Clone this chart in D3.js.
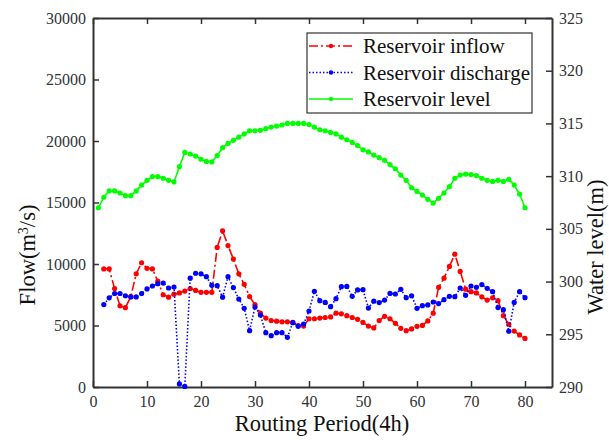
<!DOCTYPE html>
<html>
<head>
<meta charset="utf-8">
<script src="https://cdn.jsdelivr.net/npm/d3@7"></script>
<style>
  body { margin: 0; background: #fff; }
  svg text { font-family: "Liberation Serif", "Times New Roman", serif; }
</style>
</head>
<body>
<div id="chart"></div>
<script>
// periods: level is given for 1..80, inflow/discharge for 2..80
var levelPeriods = d3.range(1, 81);
var flowPeriods = d3.range(2, 81);

var level = [307.0, 308.0, 308.6, 308.6, 308.4, 308.15, 308.15, 308.6, 309.15, 309.6,
  309.95, 309.95, 309.8, 309.6, 309.45, 310.9, 312.25, 312.1, 311.9, 311.6,
  311.4, 311.35, 311.95, 312.7, 313.1, 313.4, 313.7, 314.0, 314.3, 314.3,
  314.35, 314.5, 314.65, 314.75, 314.85, 315.0, 315.0, 315.0, 315.0, 314.9,
  314.65, 314.4, 314.3, 314.15, 314.0, 313.7, 313.45, 313.2, 312.9, 312.5,
  312.3, 312.0, 311.75, 311.5, 311.1, 310.7, 310.1, 309.6, 308.9, 308.55,
  308.2, 307.8, 307.45, 307.9, 308.4, 309.0, 309.8, 310.1, 310.2, 310.15,
  310.05, 309.8, 309.6, 309.5, 309.6, 309.5, 309.7, 309.15, 308.3, 307.0];

var inflow = [9600, 9600, 8000, 6600, 6450, 7350, 9200, 10100, 9650,
  9600, 8600, 7500, 7300, 7550, 7650, 7800, 8000, 7850, 7700,
  7700, 7700, 11350, 12700, 11500, 10400, 9200, 8350, 7350, 6700,
  6000, 5600, 5400, 5350, 5300, 5300, 5250, 5000, 4950, 5550,
  5550, 5600, 5650, 5700, 6000, 5950, 5800, 5650, 5500, 5250,
  4950, 4800, 5400, 5750, 5550, 5180, 4770, 4580, 4720, 4930,
  5010, 5370, 6000, 8100, 8850, 9800, 10800, 9400, 7950, 7750,
  7650, 7330, 7070, 7250, 7020, 5800, 5100, 4550, 4230, 3950];

var discharge = [6700, 7250, 7600, 7600, 7420, 7320, 7320, 7600, 7970,
  8210, 8400, 8450, 8050, 8130, 250, 50, 8850, 9250, 9200,
  8970, 8270, 8240, 7300, 8970, 8080, 7150, 6400, 4580, 6500,
  5850, 4420, 4170, 4420, 4420, 4040, 5230, 4930, 5120, 6180,
  7780, 7020, 6880, 6530, 7180, 8160, 8180, 7370, 7890, 7910,
  6420, 6980, 6860, 7070, 7610, 7560, 7940, 7260, 7420, 6400,
  6610, 6670, 6910, 6780, 7100, 7370, 7340, 8050, 7450, 8210,
  8100, 8330, 8020, 7750, 6460, 6290, 4540, 6880, 7750, 7260];

var xTicks = [0, 10, 20, 30, 40, 50, 60, 70, 80];
var flowTicks = [0, 5000, 10000, 15000, 20000, 25000, 30000];
var levelTicks = [290, 295, 300, 305, 310, 315, 320, 325];
var seriesNames = ["Reservoir inflow", "Reservoir discharge", "Reservoir level"];

var svgWidth = 609;
var svgHeight = 440;
var margin = { top: 18, right: 57, bottom: 53, left: 93 };
var width = svgWidth - margin.left - margin.right;
var height = svgHeight - margin.top - margin.bottom;

var svg = d3.select("#chart").append("svg")
  .attr("width", svgWidth)
  .attr("height", svgHeight);

var chartGroup = svg.append("g")
  .attr("transform", `translate(${margin.left}, ${margin.top})`);

var xScale = d3.scaleLinear().domain([0, 85]).range([0, width]);
var yFlow = d3.scaleLinear().domain([0, 30000]).range([height, 0]);
var yLevel = d3.scaleLinear().domain([290, 325]).range([height, 0]);

var plain = d3.format("d");

// axes, ticks pointing inward
function styleAxis(g) {
  g.attr("font-family", "Liberation Serif, Times New Roman, serif");
  g.select(".domain").attr("stroke", "#333").attr("stroke-width", 2);
  g.selectAll(".tick line").attr("stroke", "#333").attr("stroke-width", 1.5);
  g.selectAll(".tick text").attr("fill", "#333").style("font-size", "16px");
}

chartGroup.append("g")
  .attr("transform", `translate(0, ${height})`)
  .call(d3.axisBottom(xScale).tickValues(xTicks).tickFormat(plain).tickSize(-6).tickPadding(9).tickSizeOuter(0))
  .call(styleAxis);

chartGroup.append("g")
  .call(d3.axisTop(xScale).tickValues(xTicks).tickSize(-6).tickSizeOuter(0).tickFormat(""))
  .call(styleAxis);

chartGroup.append("g")
  .call(d3.axisLeft(yFlow).tickValues(flowTicks).tickFormat(plain).tickSize(-6).tickPadding(7).tickSizeOuter(0))
  .call(styleAxis);

chartGroup.append("g")
  .attr("transform", `translate(${width}, 0)`)
  .call(d3.axisRight(yLevel).tickValues(levelTicks).tickFormat(plain).tickSize(-6).tickPadding(7).tickSizeOuter(0))
  .call(styleAxis);

// series
var series = [
  { name: seriesNames[0], xs: flowPeriods, ys: inflow, scale: yFlow, color: "#ff0000", dash: "9,3,2,3" },
  { name: seriesNames[1], xs: flowPeriods, ys: discharge, scale: yFlow, color: "#0000ff", dash: "1.5,2" },
  { name: seriesNames[2], xs: levelPeriods, ys: level, scale: yLevel, color: "#00ff00", dash: null }
];

series.forEach(function(s) {
  var pts = s.xs.map(function(x, i) { return [x, s.ys[i]]; });
  var line = d3.line()
    .x(d => xScale(d[0]))
    .y(d => s.scale(d[1]));

  chartGroup.append("path")
    .datum(pts)
    .attr("fill", "none")
    .attr("stroke", s.color)
    .attr("stroke-width", 1.6)
    .attr("stroke-dasharray", s.dash)
    .attr("d", line);

  chartGroup.append("g")
    .selectAll("circle")
    .data(pts)
    .enter()
    .append("circle")
    .attr("cx", d => xScale(d[0]))
    .attr("cy", d => s.scale(d[1]))
    .attr("r", 2.6)
    .attr("fill", s.color);
});

// legend
var legend = svg.append("g").attr("transform", "translate(307, 33)");
legend.append("rect")
  .attr("width", 225)
  .attr("height", 80)
  .attr("fill", "#fff")
  .attr("stroke", "#333")
  .attr("stroke-width", 1.2);

series.forEach(function(s, i) {
  var yy = 13 + i * 26.5;
  legend.append("line")
    .attr("x1", 2).attr("x2", 46)
    .attr("y1", yy).attr("y2", yy)
    .attr("stroke", s.color)
    .attr("stroke-width", 1.6)
    .attr("stroke-dasharray", s.dash);
  legend.append("circle")
    .attr("cx", 24).attr("cy", yy).attr("r", 2.2)
    .attr("fill", s.color);
  legend.append("text")
    .attr("x", 56)
    .attr("y", yy)
    .attr("dy", "0.35em")
    .style("font-size", "21px")
    .attr("fill", "#111")
    .text(s.name);
});

// axis titles
svg.append("text")
  .attr("transform", `translate(35, 255) rotate(-90)`)
  .attr("text-anchor", "middle")
  .style("font-size", "22.5px")
  .attr("fill", "#111")
  .html("Flow(m<tspan baseline-shift='super' font-size='14px'>3</tspan>/s)");

svg.append("text")
  .attr("transform", `translate(603, 247) rotate(-90)`)
  .attr("text-anchor", "middle")
  .style("font-size", "22.5px")
  .attr("fill", "#111")
  .text("Water level(m)");

svg.append("text")
  .attr("x", 322)
  .attr("y", 431)
  .attr("text-anchor", "middle")
  .style("font-size", "22.5px")
  .attr("fill", "#111")
  .text("Routing Period(4h)");
</script>
</body>
</html>
